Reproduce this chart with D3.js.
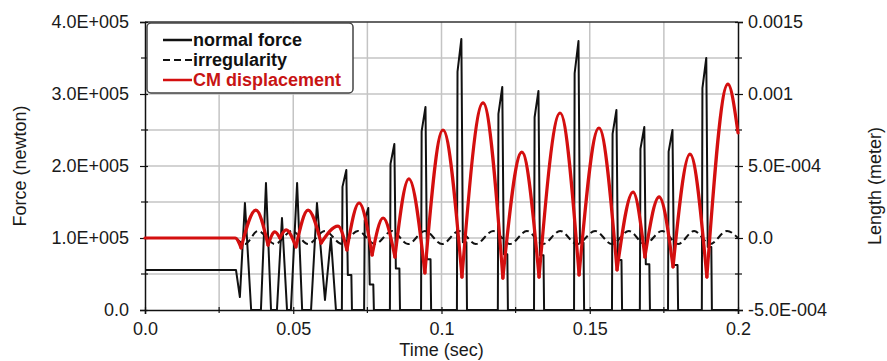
<!DOCTYPE html>
<html>
<head>
<meta charset="utf-8">
<script src="https://cdn.jsdelivr.net/npm/d3@7"></script>
<style>
  html, body { margin: 0; padding: 0; background: #fff; }
  svg { display: block; font-family: "Liberation Sans", Arial, sans-serif; }
</style>
</head>
<body>
<div id="chart"></div>
<script>
// ---- data ----
// time (s), normal force (N)
const normalForce = [
  [0, 55500], [0.0307, 55500], [0.0320, 18000], [0.0337, 148600], [0.0358, 0],
  [0.0391, 0], [0.0408, 176400], [0.0425, 0],
  [0.0445, 0], [0.0462, 127800], [0.0479, 0],
  [0.0492, 0], [0.0513, 176400], [0.0530, 0],
  [0.0560, 0], [0.0580, 148600], [0.0607, 13900], [0.0627, 100000], [0.0644, 0],
  [0.0664, 0], [0.0666, 171000], [0.0679, 194400], [0.0684, 48600], [0.0696, 48600], [0.0698, 0],
  [0.0739, 0], [0.0741, 124700], [0.0753, 141700], [0.0758, 35400], [0.0770, 35400], [0.0772, 0],
  [0.0826, 0], [0.0828, 203000], [0.0841, 230600], [0.0846, 57700], [0.0858, 57700], [0.0860, 0],
  [0.0931, 0], [0.0933, 248000], [0.0946, 282000], [0.0951, 70500], [0.0963, 70500], [0.0965, 0],
  [0.1052, 0], [0.1054, 331000], [0.1067, 376400], [0.1072, 94000], [0.1084, 94000], [0.1086, 0],
  [0.1190, 0], [0.1192, 272500], [0.1205, 309700], [0.1210, 77400], [0.1222, 77400], [0.1224, 0],
  [0.1312, 0], [0.1314, 267700], [0.1327, 304200], [0.1332, 76000], [0.1344, 76000], [0.1346, 0],
  [0.1447, 0], [0.1449, 328800], [0.1462, 373600], [0.1467, 93400], [0.1479, 93400], [0.1481, 0],
  [0.1575, 0], [0.1577, 244500], [0.1590, 277800], [0.1595, 69500], [0.1607, 69500], [0.1609, 0],
  [0.1669, 0], [0.1671, 223700], [0.1684, 254200], [0.1689, 63500], [0.1701, 63500], [0.1703, 0],
  [0.1764, 0], [0.1766, 220000], [0.1779, 250000], [0.1784, 62500], [0.1796, 62500], [0.1798, 0],
  [0.1878, 0], [0.1880, 308000], [0.1893, 350000], [0.1898, 87500], [0.1910, 87500], [0.1912, 0],
  [0.2, 0]
];

// time (s), irregularity (m)
const irregularity = [
  [0.0307, 0], [0.0337, -4.2e-5], [0.0381, 4.9e-5], [0.0438, -4.2e-5],
  [0.0496, 4.9e-5], [0.0550, -4.2e-5], [0.0607, 4.9e-5], [0.0664, -4.2e-5],
  [0.0718, 4.9e-5], [0.0776, -4.2e-5], [0.0833, 4.9e-5], [0.0887, -4.2e-5],
  [0.0944, 4.9e-5], [0.1002, -4.2e-5], [0.1059, 4.9e-5], [0.1116, -4.2e-5],
  [0.1174, 4.9e-5], [0.1231, -4.2e-5], [0.1288, 4.9e-5], [0.1342, -4.2e-5],
  [0.1400, 4.9e-5], [0.1457, -4.2e-5], [0.1518, 4.9e-5], [0.1575, -4.2e-5],
  [0.1632, 4.9e-5], [0.1686, -4.2e-5], [0.1744, 4.9e-5], [0.1798, -4.2e-5],
  [0.1852, 4.9e-5], [0.1906, -4.2e-5], [0.1963, 4.9e-5], [0.2, 0]
];

// time (s), CM displacement (m)
const cmDisplacement = [
  [0, 0], [0.0304, 0], [0.0324, -6.9e-5], [0.0374, 1.94e-4], [0.0415, -4.9e-5],
  [0.0438, 4.2e-5], [0.0455, 0], [0.0476, 5.6e-5], [0.0509, -6.2e-5],
  [0.0550, 1.94e-4], [0.0594, -3.5e-5], [0.0651, 8.3e-5], [0.0681, -8.3e-5],
  [0.0722, 2.43e-4], [0.0766, -1.18e-4], [0.0803, 1.39e-4], [0.0843, -1.32e-4],
  [0.0890, 4.10e-4], [0.0944, -2.43e-4], [0.1005, 7.50e-4], [0.1069, -2.71e-4],
  [0.1140, 9.38e-4], [0.1207, -2.78e-4], [0.1271, 5.97e-4], [0.1329, -2.71e-4],
  [0.1400, 8.68e-4], [0.1464, -2.57e-4], [0.1531, 7.64e-4], [0.1592, -2.22e-4],
  [0.1646, 3.19e-4], [0.1686, -1.32e-4], [0.1734, 2.85e-4], [0.1781, -2.01e-4],
  [0.1838, 5.83e-4], [0.1895, -2.71e-4], [0.1966, 1.069e-3], [0.2, 7.3e-4]
];

const timeTicks = [0, 0.05, 0.1, 0.15, 0.2];
const timeTickLabels = ['0.0', '0.05', '0.1', '0.15', '0.2'];
const timeGrid = [0.025, 0.05, 0.075, 0.1, 0.125, 0.15, 0.175];
const timeMinor = [0.025, 0.075, 0.125, 0.175];

const forceTicks = [0, 1e5, 2e5, 3e5, 4e5];
const forceTickLabels = ['0.0', '1.0E+005', '2.0E+005', '3.0E+005', '4.0E+005'];
const forceMinor = [0.5e5, 1.5e5, 2.5e5, 3.5e5];
const forceGrid = [0.5e5, 1e5, 1.5e5, 2e5, 2.5e5, 3e5, 3.5e5];

const lengthTicks = [-5e-4, 0, 5e-4, 1e-3, 1.5e-3];
const lengthTickLabels = ['-5.0E-004', '0.0', '5.0E-004', '0.001', '0.0015'];
const lengthMinor = [-2.5e-4, 2.5e-4, 7.5e-4, 1.25e-3];

const legendItems = [
  { label: 'normal force', color: '#111', dash: null, text: '#111' },
  { label: 'irregularity', color: '#111', dash: '7,4', text: '#111' },
  { label: 'CM displacement', color: '#d40f0f', dash: null, text: '#c81414' }
];

// ---- layout ----
const W = 887, H = 361;
const margin = { top: 22, right: 149, bottom: 51, left: 145 };
const width = W - margin.left - margin.right;
const height = H - margin.top - margin.bottom;
const red = '#d40f0f';

const svg = d3.select('#chart').append('svg')
  .attr('width', W).attr('height', H);

const g = svg.append('g')
  .attr('transform', `translate(${margin.left},${margin.top})`);

const x = d3.scaleLinear().domain([0, 0.2]).range([0, width]);
const yF = d3.scaleLinear().domain([0, 4e5]).range([height, 0]);
const yL = d3.scaleLinear().domain([-5e-4, 1.5e-3]).range([height, 0]);

// grid
g.append('g').selectAll('line').data(timeGrid).join('line')
  .attr('x1', d => x(d)).attr('x2', d => x(d))
  .attr('y1', 0).attr('y2', height)
  .attr('stroke', '#c4c4c4').attr('stroke-width', 1.5);
g.append('g').selectAll('line').data(forceGrid).join('line')
  .attr('x1', 0).attr('x2', width)
  .attr('y1', d => yF(d)).attr('y2', d => yF(d))
  .attr('stroke', '#c4c4c4').attr('stroke-width', 1.5);

// top frame
g.append('line').attr('x1', 0).attr('x2', width).attr('y1', 0).attr('y2', 0)
  .attr('stroke', '#333').attr('stroke-width', 1.5);

// axes
function styleAxis(sel) {
  sel.select('.domain').attr('stroke', '#111').attr('stroke-width', 1.5);
  sel.selectAll('.tick line').attr('stroke', '#111').attr('stroke-width', 1.2);
  sel.selectAll('.tick text')
    .attr('fill', '#1a1a1a')
    .style('font-size', '18px');
}

const xAxis = g.append('g')
  .attr('transform', `translate(0,${height})`)
  .call(d3.axisBottom(x).tickValues(timeTicks)
    .tickFormat((d, i) => timeTickLabels[i]).tickSize(4).tickPadding(8));
styleAxis(xAxis);
xAxis.selectAll('.tick line').attr('y1', -3);
xAxis.append('g').selectAll('line').data(timeMinor).join('line')
  .attr('x1', d => x(d)).attr('x2', d => x(d)).attr('y1', -3).attr('y2', 3)
  .attr('stroke', '#111').attr('stroke-width', 1.2);

const yAxisL = g.append('g')
  .call(d3.axisLeft(yF).tickValues(forceTicks)
    .tickFormat((d, i) => forceTickLabels[i]).tickSize(5).tickPadding(11));
styleAxis(yAxisL);
yAxisL.selectAll('.tick line').attr('x1', 3);
yAxisL.append('g').selectAll('line').data(forceMinor).join('line')
  .attr('x1', -4).attr('x2', 3).attr('y1', d => yF(d)).attr('y2', d => yF(d))
  .attr('stroke', '#111').attr('stroke-width', 1.2);

const yAxisR = g.append('g')
  .attr('transform', `translate(${width},0)`)
  .call(d3.axisRight(yL).tickValues(lengthTicks)
    .tickFormat((d, i) => lengthTickLabels[i]).tickSize(5).tickPadding(5));
styleAxis(yAxisR);
yAxisR.selectAll('.tick line').attr('x1', -3);
yAxisR.append('g').selectAll('line').data(lengthMinor).join('line')
  .attr('x1', -3).attr('x2', 4).attr('y1', d => yL(d)).attr('y2', d => yL(d))
  .attr('stroke', '#111').attr('stroke-width', 1.2);

// axis titles
svg.append('text')
  .attr('x', margin.left + width / 2).attr('y', H - 5)
  .attr('text-anchor', 'middle').attr('fill', '#1a1a1a')
  .style('font-size', '18px').text('Time (sec)');
svg.append('text')
  .attr('transform', `translate(26,${margin.top + height / 2}) rotate(-90)`)
  .attr('text-anchor', 'middle').attr('fill', '#1a1a1a')
  .style('font-size', '18px').text('Force (newton)');
svg.append('text')
  .attr('transform', `translate(881,${margin.top + height / 2 + 20}) rotate(-90)`)
  .attr('text-anchor', 'middle').attr('fill', '#1a1a1a')
  .style('font-size', '18px').text('Length (meter)');

// series
const forceLine = d3.line().x(d => x(d[0])).y(d => yF(d[1]));
g.append('path').datum(normalForce)
  .attr('d', forceLine)
  .attr('fill', 'none').attr('stroke', '#111').attr('stroke-width', 2)
  .attr('stroke-linejoin', 'round');

const irrLine = d3.line().x(d => x(d[0])).y(d => yL(d[1])).curve(d3.curveMonotoneX);
g.append('path').datum(irregularity)
  .attr('d', irrLine)
  .attr('fill', 'none').attr('stroke', '#111').attr('stroke-width', 2)
  .attr('stroke-dasharray', '7,4');

// split the displacement at each trough so each bounce is its own arch
function splitAtTroughs(pts) {
  const segs = [];
  let cur = [pts[0]];
  for (let i = 1; i < pts.length; i++) {
    cur.push(pts[i]);
    const isTrough = i < pts.length - 1 &&
      pts[i][1] < pts[i - 1][1] && pts[i][1] < pts[i + 1][1];
    if (isTrough) { segs.push(cur); cur = [pts[i]]; }
  }
  segs.push(cur);
  return segs;
}
const cmLine = d3.line().x(d => x(d[0])).y(d => yL(d[1])).curve(d3.curveMonotoneX);
g.append('g').selectAll('path').data(splitAtTroughs(cmDisplacement)).join('path')
  .attr('d', cmLine)
  .attr('fill', 'none').attr('stroke', red).attr('stroke-width', 3.2)
  .attr('stroke-linejoin', 'round').attr('stroke-linecap', 'round');

// legend
const legend = svg.append('g').attr('transform', 'translate(147,23)');
legend.append('rect')
  .attr('width', 206).attr('height', 70).attr('rx', 4)
  .attr('fill', '#fff').attr('stroke', '#444').attr('stroke-width', 1.5);
const rows = legend.selectAll('.row').data(legendItems).join('g')
  .attr('class', 'row')
  .attr('transform', (d, i) => `translate(0,${17 + i * 20})`);
rows.append('line')
  .attr('x1', 16).attr('x2', 45)
  .attr('stroke', d => d.color).attr('stroke-width', d => d.dash ? 2 : 2.5)
  .attr('stroke-dasharray', d => d.dash);
rows.append('text')
  .attr('x', 46).attr('dy', '0.35em')
  .attr('fill', d => d.text)
  .style('font-size', '18px').style('font-weight', 'bold')
  .text(d => d.label);
</script>
</body>
</html>
